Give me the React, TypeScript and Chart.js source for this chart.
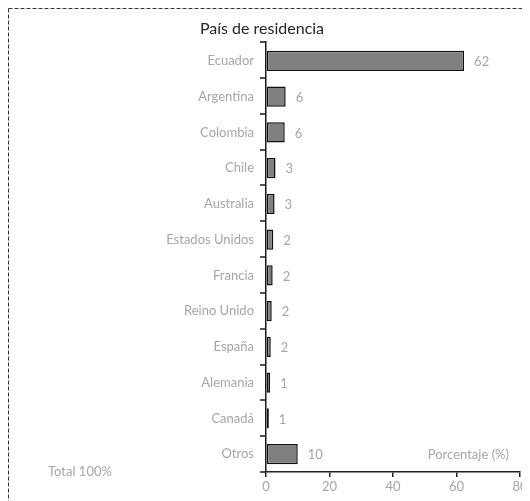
import React, { useEffect, useRef } from "react";
import { Chart, registerables } from "chart.js";

Chart.register(...registerables);

const categories = ["Ecuador", "Argentina", "Colombia", "Chile", "Australia", "Estados Unidos", "Francia", "Reino Unido", "España", "Alemania", "Canadá", "Otros"];
const values = [62.4, 6.2, 5.9, 3.0, 2.7, 2.3, 2.1, 1.8, 1.5, 1.3, 0.9, 10.0];
const valueLabels = ["62", "6", "6", "3", "3", "2", "2", "2", "2", "1", "1", "10"];
const xTicks = [0, 20, 40, 60, 80];
const titleText = "País de residencia";
const axisTitle = "Porcentaje (%)";
const totalText = "Total 100%";

const FONT = "Lato";
const GRAY = "#a6a6a6";

export default function App() {
  const ref = useRef<HTMLCanvasElement>(null);
  useEffect(() => {
    if (!ref.current) return;
    const extras = {
      id: "extras",
      afterDraw(chart: any) {
        const ctx = chart.ctx;
        const ca = chart.chartArea;
        const xs = chart.scales.x;
        const ys = chart.scales.y;
        ctx.save();
        // y-axis line and tick marks between categories
        ctx.fillStyle = "#1a1a1a";
        const n = categories.length;
        const top = ca.top - 1;
        const step = (ca.bottom - top) / n;
        ctx.fillRect(Math.round(ca.left) - 1, top - 1, 1.5, ca.bottom - top + 1);
        for (let i = 0; i <= n; i++) {
          const y = Math.round(top + i * step);
          ctx.fillRect(Math.round(ca.left) - 6, y - 0.75, 6, 1.5);
        }
        // dashed frame (top & left visible)
        ctx.strokeStyle = "#333";
        ctx.lineWidth = 1;
        ctx.setLineDash([4, 2]);
        ctx.beginPath();
        ctx.moveTo(0.5, 0.5);
        ctx.lineTo(chart.width, 0.5);
        ctx.moveTo(0.5, 0.5);
        ctx.lineTo(0.5, chart.height);
        ctx.stroke();
        // title
        ctx.fillStyle = "#262626";
        ctx.font = `16px ${FONT}`;
        ctx.textAlign = "center";
        ctx.textBaseline = "alphabetic";
        ctx.fillText(titleText, 254, 26);
        // value labels
        ctx.fillStyle = GRAY;
        ctx.font = `13px ${FONT}`;
        ctx.textAlign = "left";
        ctx.textBaseline = "middle";
        values.forEach((v, i) => {
          ctx.fillText(valueLabels[i], xs.getPixelForValue(v) + 10, ys.getPixelForValue(i) + 1);
        });
        // axis title
        ctx.textAlign = "right";
        ctx.fillText(axisTitle, ca.right - 11, ca.bottom - 17);
        // total
        ctx.textAlign = "left";
        ctx.fillText(totalText, 40, ca.bottom);
        ctx.restore();
      },
    };
    const chart = new Chart(ref.current, {
      type: "bar",
      data: {
        labels: categories,
        datasets: [
          {
            data: values,
            backgroundColor: "#808080",
            borderColor: "#111",
            borderWidth: 1.5,
            borderSkipped: false,
            barPercentage: 0.56,
            categoryPercentage: 1,
          },
        ],
      },
      options: {
        indexAxis: "y",
        animation: false,
        responsive: false,
        maintainAspectRatio: false,
        layout: { padding: { top: 35, right: 10, left: 0, bottom: 0 } },
        plugins: { legend: { display: false }, title: { display: false }, tooltip: { enabled: false } },
        scales: {
          x: {
            min: 0,
            max: 80,
            afterFit(s: any) {
              s.height = 29;
            },
            afterBuildTicks(s: any) {
              s.ticks = xTicks.map((v) => ({ value: v }));
            },
            grid: { display: true, drawOnChartArea: false, tickLength: 5, color: "#222", lineWidth: 1.5 },
            border: { display: true, color: "#222", width: 1.5 },
            ticks: { color: GRAY, font: { family: FONT, size: 13 }, padding: 2, maxRotation: 0 },
          },
          y: {
            afterFit(s: any) {
              s.width = 258;
            },
            grid: { display: false, drawOnChartArea: false, tickLength: 5 },
            border: { display: false },
            ticks: { color: GRAY, font: { family: FONT, size: 13 }, padding: 7 },
          },
        },
      },
      plugins: [extras],
    });
    return () => chart.destroy();
  }, []);
  return (
    <div style={{ position: "relative", width: 522, height: 493, overflow: "hidden" }}>
      <canvas ref={ref} width={522} height={493} style={{ position: "absolute", left: 0, top: 0, width: 522, height: 493 }} />
    </div>
  );
}
